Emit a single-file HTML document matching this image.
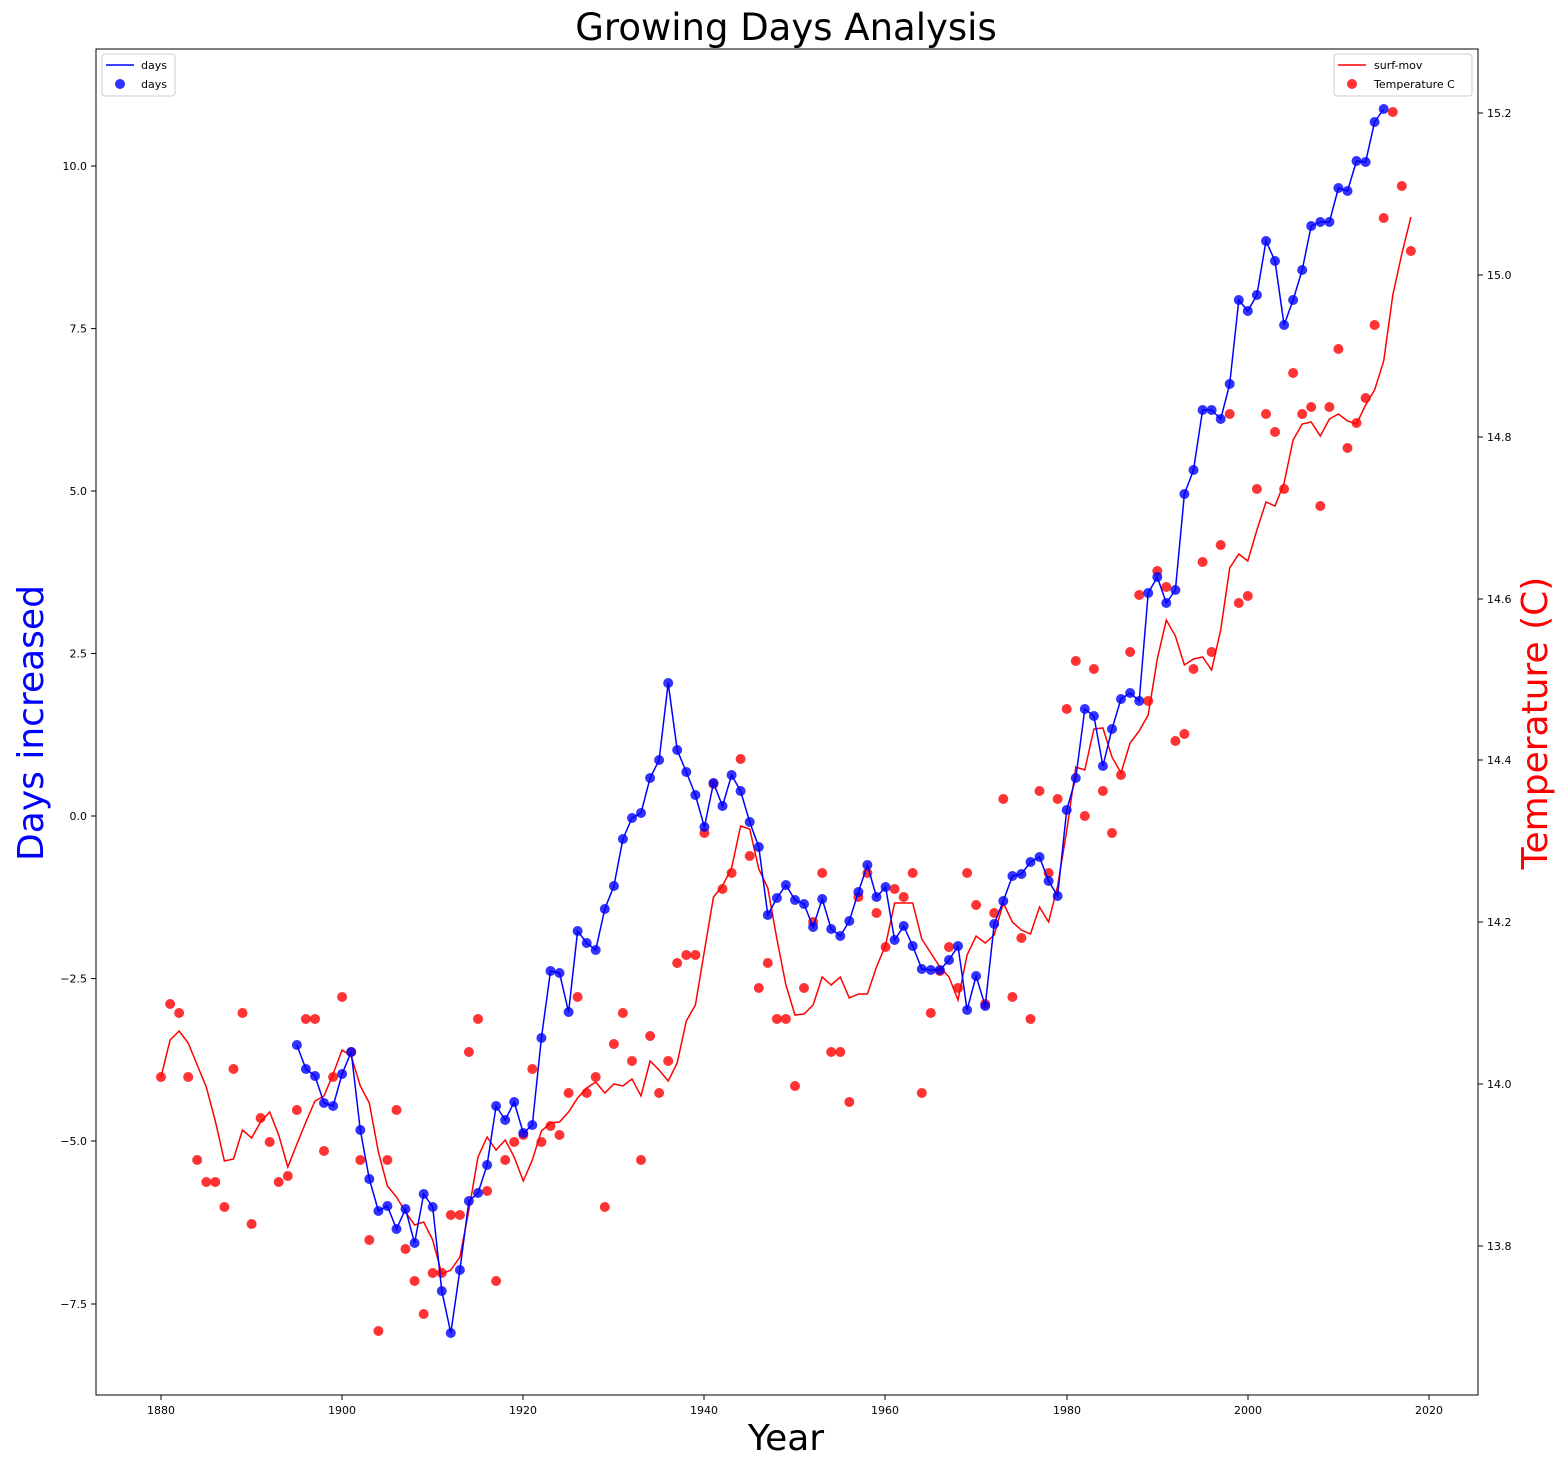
<!DOCTYPE html>
<html><head><meta charset="utf-8">
<style>
html,body{margin:0;padding:0;background:#fff;}
svg{display:block;font-family:"DejaVu Sans","Liberation Sans",sans-serif;}
</style></head><body>
<svg id="s" width="1568" height="1470" viewBox="0 0 1568 1470" xmlns="http://www.w3.org/2000/svg">
<rect width="1568" height="1470" fill="#fff"/>
<text x="786" y="40" font-size="37" text-anchor="middle">Growing Days Analysis</text>
<text x="786" y="1450" font-size="36" text-anchor="middle">Year</text>
<text transform="translate(43,723) rotate(-90)" font-size="36" fill="#0000ff" text-anchor="middle">Days increased</text>
<text transform="translate(1547,723) rotate(-90)" font-size="36" fill="#ff0000" text-anchor="middle">Temperature (C)</text>
<g id="plot"></g>
<rect x="96" y="49" width="1382" height="1346" fill="none" stroke="#000" stroke-width="1"/>
<g font-size="11" text-anchor="middle">
<text x="161" y="1414">1880</text><text x="342" y="1414">1900</text><text x="523" y="1414">1920</text><text x="704" y="1414">1940</text><text x="885" y="1414">1960</text><text x="1067" y="1414">1980</text><text x="1248" y="1414">2000</text><text x="1429" y="1414">2020</text>
</g>
<g stroke="#000">
<line x1="161" x2="161" y1="1395" y2="1400"/><line x1="342" x2="342" y1="1395" y2="1400"/><line x1="523" x2="523" y1="1395" y2="1400"/><line x1="704" x2="704" y1="1395" y2="1400"/><line x1="885" x2="885" y1="1395" y2="1400"/><line x1="1067" x2="1067" y1="1395" y2="1400"/><line x1="1248" x2="1248" y1="1395" y2="1400"/><line x1="1429" x2="1429" y1="1395" y2="1400"/>
<line x1="91" x2="96" y1="166" y2="166"/><line x1="91" x2="96" y1="328.6" y2="328.6"/><line x1="91" x2="96" y1="491" y2="491"/><line x1="91" x2="96" y1="653.5" y2="653.5"/><line x1="91" x2="96" y1="816" y2="816"/><line x1="91" x2="96" y1="978.6" y2="978.6"/><line x1="91" x2="96" y1="1141" y2="1141"/><line x1="91" x2="96" y1="1304" y2="1304"/>
<line x1="1478" x2="1483" y1="113" y2="113"/><line x1="1478" x2="1483" y1="275" y2="275"/><line x1="1478" x2="1483" y1="437" y2="437"/><line x1="1478" x2="1483" y1="599" y2="599"/><line x1="1478" x2="1483" y1="760" y2="760"/><line x1="1478" x2="1483" y1="922" y2="922"/><line x1="1478" x2="1483" y1="1084" y2="1084"/><line x1="1478" x2="1483" y1="1246" y2="1246"/>
</g>
<g font-size="11" text-anchor="end">
<text x="87" y="170">10.0</text><text x="87" y="332.6">7.5</text><text x="87" y="495">5.0</text><text x="87" y="657.5">2.5</text><text x="87" y="820">0.0</text><text x="87" y="982.6">−2.5</text><text x="87" y="1145">−5.0</text><text x="87" y="1308">−7.5</text>
</g>
<g font-size="11">
<text x="1487" y="117">15.2</text><text x="1487" y="279">15.0</text><text x="1487" y="441">14.8</text><text x="1487" y="603">14.6</text><text x="1487" y="764">14.4</text><text x="1487" y="926">14.2</text><text x="1487" y="1088">14.0</text><text x="1487" y="1250">13.8</text>
</g>
<rect x="102" y="54" width="73" height="42" rx="3" fill="#fff" fill-opacity="0.8" stroke="#ccc"/>
<line x1="106" x2="134" y1="65" y2="65" stroke="#0000ff" stroke-width="1.5"/>
<circle cx="120" cy="84" r="5" fill="#0000ff" fill-opacity="0.8"/>
<text x="141" y="69" font-size="11">days</text><text x="141" y="88" font-size="11">days</text>
<rect x="1334" y="54" width="138" height="42" rx="3" fill="#fff" fill-opacity="0.8" stroke="#ccc"/>
<line x1="1338" x2="1366" y1="65" y2="65" stroke="#ff0000" stroke-width="1.5"/>
<circle cx="1352" cy="84" r="5" fill="#ff0000" fill-opacity="0.8"/>
<text x="1374" y="69" font-size="11">surf-mov</text><text x="1374" y="88" font-size="11">Temperature C</text>
</svg>
<script>
var blue=[1045,1069,1076,1103,1106,1074,1052,1130,1179,1211,1206,1229,1209,1243,1194,1207,1291,1333,1270,1201,1193,1165,1106,1120,1102,1133,1125,1038,971,973,1012,931,943,950,909,886,839,818,813,778,760,683,750,772,795,827,783,806,775,791,822,847,915,898,885,900,904,927,899,929,936,921,892,865,897,887,940,926,946,969,970,970,960,946,1010,976,1006,924,901,876,874,862,857,881,896,810,778,709,716,766,729,699,693,701,593,577,603,590,494,470,410,410,419,384,300,311,295,241,261,325,300,270,226,222,222,188,191,161,162,122,109];
var red=[1077,1004,1013,1077,1160,1182,1182,1207,1069,1013,1224,1118,1142,1182,1176,1110,1019,1019,1151,1077,997,1052,1160,1240,1331,1160,1110,1249,1281,1314,1273,1273,1215,1215,1052,1019,1191,1281,1160,1142,1135,1069,1142,1126,1135,1093,997,1093,1077,1207,1044,1013,1061,1160,1036,1093,1061,963,955,955,833,784,889,873,759,856,988,963,1019,1019,1086,988,922,873,1052,1052,1102,897,873,913,947,889,897,873,1093,1013,971,947,988,873,905,1004,913,799,997,938,1019,791,873,799,709,661,816,669,791,833,775,652,595,701,571,587,741,734,669,562,652,545,414,603,596,489,414,432,489,373,414,407,506,407,349,448,423,398,325,218,112,186,251];
var mov=[1077,1040,1031,1043,1065,1087,1121,1161,1159,1130,1138,1122,1112,1135,1167,1144,1122,1101,1096,1074,1050,1056,1086,1103,1152,1186,1197,1212,1225,1222,1240,1274,1270,1257,1210,1157,1137,1150,1140,1157,1181,1160,1131,1123,1122,1112,1098,1088,1082,1093,1084,1086,1079,1096,1061,1070,1081,1063,1021,1005,951,897,886,868,826,829,869,888,939,985,1015,1014,1005,977,985,977,998,994,994,967,945,903,903,903,939,953,967,977,1000,955,936,943,935,903,922,930,934,907,922,886,831,767,770,729,728,757,773,743,731,715,659,620,636,665,659,657,670,630,568,554,561,530,502,506,483,440,424,422,436,419,414,421,424,405,390,361,295,254,217];
function X(y){return 161+(y-1880)*9.057;}
var g='';
var p=mov.map(function(v,i){return X(1880+i).toFixed(1)+','+v;}).join(' ');
g+='<polyline points="'+p+'" fill="none" stroke="#ff0000" stroke-width="1.5"/>';
red.forEach(function(v,i){g+='<circle cx="'+X(1880+i).toFixed(1)+'" cy="'+v+'" r="5" fill="#ff0000" fill-opacity="0.8"/>';});
p=blue.map(function(v,i){return X(1895+i).toFixed(1)+','+v;}).join(' ');
g+='<polyline points="'+p+'" fill="none" stroke="#0000ff" stroke-width="1.5"/>';
blue.forEach(function(v,i){g+='<circle cx="'+X(1895+i).toFixed(1)+'" cy="'+v+'" r="5" fill="#0000ff" fill-opacity="0.8"/>';});
document.getElementById('plot').innerHTML=g;
</script>
</body></html>
